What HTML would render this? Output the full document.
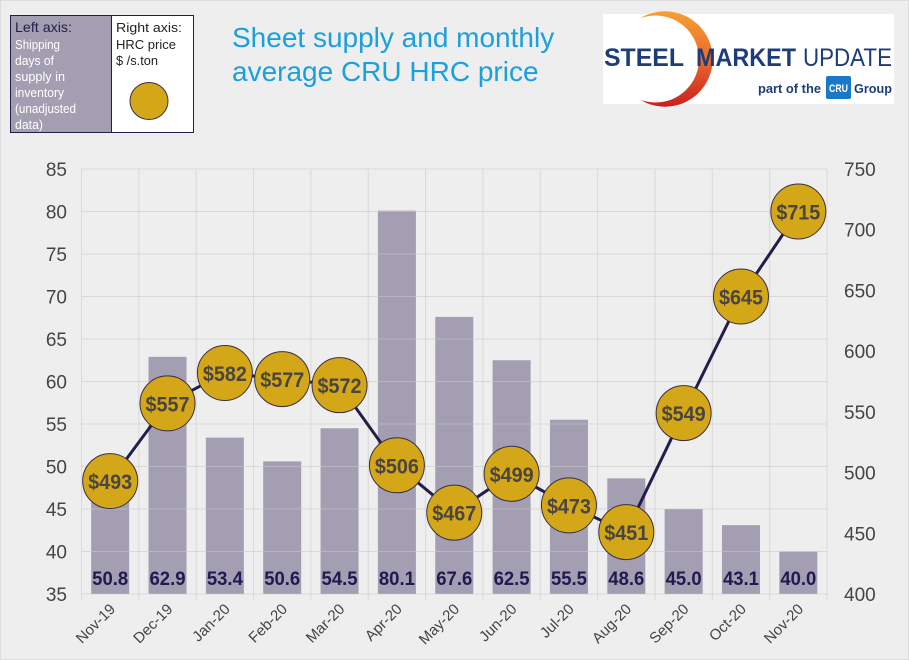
<!DOCTYPE html>
<html><head><meta charset="utf-8"><style>
body{margin:0;background:#fff;}
#wrap{position:relative;width:907px;height:658px;background:#eeeeee;border:1px solid #dcdcdc;font-family:"Liberation Sans",sans-serif;overflow:hidden;}
</style></head><body>
<div id="wrap">
<svg id="chart" width="907" height="658">
  <defs><linearGradient id="arc" x1="0" y1="0" x2="0" y2="1"><stop offset="0" stop-color="#f6a032"/><stop offset="0.5" stop-color="#ec6a2c"/><stop offset="1" stop-color="#c8201e"/></linearGradient></defs>
  <g>
    <rect x="9.5" y="14.5" width="101" height="117" fill="#a39eb1" stroke="#221d4a" stroke-width="1"/>
    <rect x="110.5" y="14.5" width="82" height="117" fill="#ffffff" stroke="#221d4a" stroke-width="1"/>
    <text font-size="14" fill="#221d4a">
      <tspan x="14" y="31" textLength="57" lengthAdjust="spacingAndGlyphs">Left axis:</tspan></text>
    <text font-size="13" fill="#ffffff">
      <tspan x="14" y="48" textLength="45" lengthAdjust="spacingAndGlyphs">Shipping</tspan><tspan x="14" y="64" textLength="39" lengthAdjust="spacingAndGlyphs">days of</tspan><tspan x="14" y="80" textLength="50" lengthAdjust="spacingAndGlyphs">supply in</tspan><tspan x="14" y="96" textLength="49" lengthAdjust="spacingAndGlyphs">inventory</tspan><tspan x="14" y="112" textLength="61" lengthAdjust="spacingAndGlyphs">(unadjusted</tspan><tspan x="14" y="128" textLength="28" lengthAdjust="spacingAndGlyphs">data)</tspan></text>
    <text font-size="13" fill="#222">
      <tspan x="115" y="31" textLength="66" lengthAdjust="spacingAndGlyphs">Right axis:</tspan><tspan x="115" y="48" textLength="60" lengthAdjust="spacingAndGlyphs">HRC  price</tspan><tspan x="115" y="64" textLength="42" lengthAdjust="spacingAndGlyphs">$ /s.ton</tspan></text>
    <ellipse cx="148" cy="100" rx="19" ry="18.5" fill="#d4a718" stroke="#3a2f45" stroke-width="1"/>
  </g>
  <text font-size="28" fill="#1aa0dc">
    <tspan x="231" y="46">Sheet supply and monthly</tspan><tspan x="231" y="80">average CRU HRC price</tspan></text>
  <g>
    <rect x="602" y="13" width="291" height="90" fill="#ffffff"/>
    <circle cx="664" cy="58" r="47.7" fill="url(#arc)"/>
    <circle cx="654.5" cy="58" r="43.5" fill="#ffffff"/>
    <text x="603" y="65" font-size="25" font-weight="bold" fill="#1d3d7a" textLength="80" lengthAdjust="spacingAndGlyphs">STEEL</text>
    <text x="695" y="65" font-size="25" font-weight="bold" fill="#1d3d7a" textLength="100" lengthAdjust="spacingAndGlyphs">MARKET</text>
    <text x="802" y="65" font-size="25" fill="#1d3d7a" textLength="89" lengthAdjust="spacingAndGlyphs">UPDATE</text>
    <text x="757" y="92" font-size="13" font-weight="bold" fill="#1d3d7a" textLength="63" lengthAdjust="spacingAndGlyphs">part of the</text>
    <rect x="825" y="75" width="25" height="23" rx="2" fill="#1a78c8"/>
    <text x="828" y="91" font-size="11" font-weight="bold" fill="#fff" textLength="19" lengthAdjust="spacingAndGlyphs">CRU</text>
    <text x="853" y="92" font-size="13" font-weight="bold" fill="#1d3d7a" textLength="38" lengthAdjust="spacingAndGlyphs">Group</text>
  </g>
  <g id="bars"></g>
  <g id="grid"></g>
  <g id="barlabels"></g>
  <g id="line"></g>
  <g id="axes"></g>
</svg>
</div>
<script>
const categories=["Nov-19","Dec-19","Jan-20","Feb-20","Mar-20","Apr-20","May-20","Jun-20","Jul-20","Aug-20","Sep-20","Oct-20","Nov-20"];
const supplyDays=[50.8,62.9,53.4,50.6,54.5,80.1,67.6,62.5,55.5,48.6,45.0,43.1,40.0];
const hrcPrice=[493,557,582,577,572,506,467,499,473,451,549,645,715];
const leftTicks=[35,40,45,50,55,60,65,70,75,80,85];
const rightTicks=[400,450,500,550,600,650,700,750];

const X0=80.5,X1=826,Y0=593,Y1=168;
const band=(X1-X0)/categories.length;
const xC=i=>X0+band*(i+0.5);
const yL=v=>Y0-(v-35)/(85-35)*(Y0-Y1);
const yR=v=>Y0-(v-400)/(750-400)*(Y0-Y1);
const NS="http://www.w3.org/2000/svg";
function mk(t,a,p){const e=document.createElementNS(NS,t);for(const k in a)e.setAttribute(k,a[k]);p.appendChild(e);return e;}
const grid=document.getElementById('grid'),bars=document.getElementById('bars'),bl=document.getElementById('barlabels'),line=document.getElementById('line'),axes=document.getElementById('axes');
const GC='rgba(200,200,200,0.55)';
leftTicks.forEach(v=>{
  const l=mk('line',{x1:X0,x2:X1,y1:yL(v),y2:yL(v),stroke:GC,'stroke-width':1},grid);
  
  
  const t=mk('text',{x:66,y:yL(v)+7,'font-size':19,fill:'#444','text-anchor':'end'},axes);
  t.textContent=v;
  
  
});
rightTicks.forEach(v=>{
  const t=mk('text',{x:843,y:yR(v)+7,'font-size':19,fill:'#444'},axes);
  t.textContent=v;
  
  
});
for(let i=0;i<=categories.length;i++){
  const x=X0+band*i;
  const l=mk('line',{x1:x,x2:x,y1:Y1,y2:Y0+6,stroke:GC,'stroke-width':1},grid);
  
  
}
categories.forEach((c,i)=>{
  const bw=38,x=xC(i)-bw/2,y=yL(supplyDays[i]);
  const r=mk('rect',{x:x,y:y,width:bw,height:Y0-y,fill:'#a39eb1'},bars);
  
  
  const t=mk('text',{x:xC(i)-18,y:584,'font-size':19,'font-weight':'bold',fill:'#1f1a4f',textLength:36,lengthAdjust:'spacingAndGlyphs'},bl);
  t.textContent=supplyDays[i].toFixed(1);
  
  
  const xl=mk('text',{x:0,y:0,'font-size':15,fill:'#444','text-anchor':'end',transform:`translate(${xC(i)+6},${Y0+16}) rotate(-45)`},axes);
  xl.textContent=c;
  
  
});
const pts=hrcPrice.map((v,i)=>xC(i)+','+yR(v)).join(' ');
const pl=mk('polyline',{points:pts,fill:'none',stroke:'#221d4a','stroke-width':3},line);


hrcPrice.forEach((v,i)=>{
  const c=mk('circle',{cx:xC(i),cy:yR(v),r:27.5,fill:'#d4a718',stroke:'#3a2f45','stroke-width':1},line);
  
  
  const t=mk('text',{x:xC(i)-22,y:yR(v)+8,'font-size':21,'font-weight':'bold',fill:'#4a4540',textLength:44,lengthAdjust:'spacingAndGlyphs'},line);
  t.textContent='$'+v;
  
  
});
</script>
</body></html>
